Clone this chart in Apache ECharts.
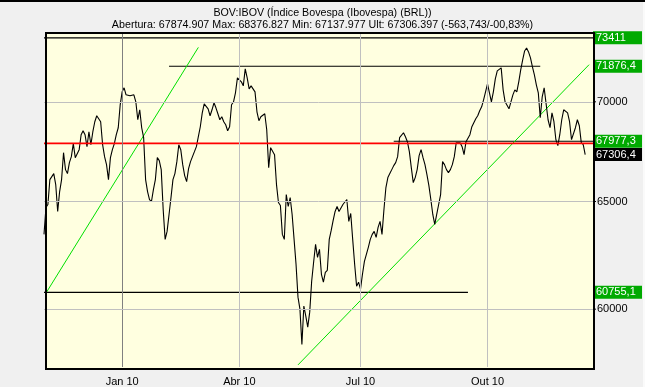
<!DOCTYPE html>
<html><head><meta charset="utf-8">
<script src="https://cdn.jsdelivr.net/npm/echarts@6/dist/echarts.min.js"></script>
<style>html,body{margin:0;padding:0;background:#f0f0f0;}#c{width:645px;height:387px;}</style>
</head><body><div id="c"></div>
<script>
// ---------- texts ----------
const titleText = 'BOV:IBOV (Índice Bovespa (Ibovespa) (BRL))';
const subtitleText = 'Abertura: 67874.907 Max: 68376.827 Min: 67137.977 Ult: 67306.397 (-563,743/-00,83%)';

// ---------- daily closes, one array per month (trading days) ----------
const oct09 = [63430];
const nov09 = [64711,64855,66068,66215,66362,65823,64519,65483,66068,67403,66559,66362,66905,67204,67854,67154,67204,67553,68309];
const dec09 = [68511,68309,67704,68461,67804,68461,68971,69278,69329,68971,67804,67204,66806,66068,67154,67553,67854,68309,68664,69845];
const jan10 = [70521,70730,70364,70417,70312,70208,70364,70000,69073,69586,68664,68157,66068,65483,65096,64999,65580,66068,67154];
const feb10 = [67004,66559,64615,63195,63571,64376,65193,66068,66362,66955,67804,67553,66806,66264,65970,66608,66955,67204];
const mar10 = [67453,67704,68208,68715,69430,69896,69896,69638,69278,69586,69948,69689,69380,69073,69226,68971,68817,68511,68715,69845,70000,70469,71257];
const apr10 = [71204,71046,70835,71733,71257,70678,70835,70940,70521,69482,69022,69226,69329,69380,68562,66658,67654,67754,67304,65823];
const may10 = [64951,64807,63430,63195,65337,64759,65193,64376,63195,62035,60539,60000,58446,60138,59690,59206,59867,61260,62127,62961,62358];
const jun10 = [62728,61577,61215,61668,61760,63195,63618,64090,64519,64759,64519,64519,64855,64903,65096,64043,64424,63195,62035,61033,61215];
const jul10 = [60898,61577,62173,62496,62821,63195,63430,63571,63289,63759,64043,63430,64615,65677,66166,66362,66559,66757,66905,67204,68157,68157];
const aug10 = [68410,68208,67955,67453,66658,65921,66166,66559,67254,67553,67154,66806,66313,65774,65096,64376,63901,64376,64855,65337,66955,66806];
const sep10 = [66559,66411,66559,66806,67204,67905,67905,67905,67704,67304,67955,67955,68309,68715,68664,69124,69278,69534,69741,70104,70521];
const oct10 = [70940,70469,70000,70521,71204,71627,71733,71787,70626,70000,70104,69638,69741,70364,70626,70521,71046,71680,72214,72698];
const nov10 = [72859,72644,72321,71840,71415,70888,70469,69175,70260,70730,70730,69073,68664,69430,68971,68056,67754,68309,69073,69586];
const dec10 = [69689,69430,68971,68056,68056,68664,69073,68766,67905,67804,67306.397];

const monthKeys = ['2009-10','2009-11','2009-12','2010-01','2010-02','2010-03','2010-04','2010-05','2010-06','2010-07','2010-08','2010-09','2010-10','2010-11','2010-12'];
const monthCloses = [oct09,nov09,dec09,jan10,feb10,mar10,apr10,may10,jun10,jul10,aug10,sep10,oct10,nov10,dec10];
const pendingDaysDec10 = 4; // empty trading days still shown on the axis

// ---------- axis ----------
const tickMonths = ['2010-01','2010-04','2010-07','2010-10'];
const tickLabels = ['Jan 10','Abr 10','Jul 10','Out 10'];
const yMin = 57475, yMax = 73729;
const gridLevels = [60000, 65000, 70000];
const gridLevelTexts = ['60000', '65000', '70000'];

// ---------- reference levels ----------
const prevClose = 67870.14;
const boxLevels = [73411, 71876.4, 67977.3, 60755.1];
const boxTexts = ['73411', '71876,4', '67977,3', '60755,1'];
const lastLevel = 67306.397;
const lastText = '67306,4';

// ---------- drawn lines (trading day, price) ----------
const redLine = [['2009-10/1', prevClose], ['2010-12/15', prevClose]];
const blackLines = [
  [['2009-10/1', 73411], ['2010-12/15', 73411]],
  [['2010-02/6', 71876.4], ['2010-11/8', 71876.4]],
  [['2010-07/18', 67977.3], ['2010-12/15', 67977.3]],
  [['2009-10/1', 60755.1], ['2010-09/12', 60755.1]]
];
const greenLines = [
  [['2009-11/1', 60720], ['2010-03/3', 72891]],
  [['2010-05/11', 57565], ['2010-12/13', 71960]]
];

// ---------- build ----------
const categories = [], closes = [];
monthKeys.forEach((m, k) => monthCloses[k].forEach((v, d) => { categories.push(m + '/' + (d + 1)); closes.push(v); }));
for (let d = 0; d < pendingDaysDec10; d++) { categories.push('2010-12/' + (dec10.length + d + 1)); closes.push(null); }

const FONT = 'Liberation Sans, Arial, sans-serif';
const tickMap = {};
tickMonths.forEach((m, k) => tickMap[m + '/1'] = tickLabels[k]);

const vLines = tickMonths.map((m, k) => ({
  xAxis: m + '/1',
  lineStyle: { color: k === 0 ? '#808080' : '#c0c0c0', width: 1, type: 'solid' },
  label: { show: false }
}));
const hLines = gridLevels.map((v, k) => ({
  yAxis: v,
  lineStyle: { color: '#c0c0c0', width: 1, type: 'solid' },
  label: {
    show: true, position: 'end', distance: 0,
    formatter: '{t|}{v|' + gridLevelTexts[k] + '}',
    rich: {
      t: { width: 3, height: 1, backgroundColor: '#000' },
      v: { color: '#000', fontSize: 11, fontFamily: FONT, padding: [0, 0, 0, 1] }
    }
  }
}));
const boxLabelStyle = (txt, bg) => ({
  show: true, position: 'end', distance: 0, formatter: txt,
  color: '#fff', backgroundColor: bg, fontSize: 11, fontFamily: FONT,
  lineHeight: 13, padding: [0, 0, 0, 3], width: 46, align: 'left'
});
const boxMarks = boxLevels.map((v, k) => ({
  yAxis: v, lineStyle: { color: 'rgba(0,0,0,0)', width: 0 }, label: boxLabelStyle(boxTexts[k], '#00aa00')
}));
boxMarks.push({ yAxis: lastLevel, lineStyle: { color: 'rgba(0,0,0,0)', width: 0 }, label: boxLabelStyle(lastText, '#000000') });

const series = [
  { type: 'line', data: [], z: 1, silent: true,
    markLine: { silent: true, symbol: ['none', 'none'], animation: false, data: vLines.concat(hLines) } },
  { type: 'line', data: closes, z: 3, showSymbol: false, symbol: 'none', connectNulls: false,
    lineStyle: { color: '#000', width: 1.1 }, silent: true },
  { type: 'line', data: redLine, z: 4, symbol: 'none', silent: true, lineStyle: { color: '#ff0000', width: 1.6 } }
];
blackLines.forEach(seg => series.push({ type: 'line', data: seg, z: 2, symbol: 'none', silent: true,
  lineStyle: { color: '#000', width: 1.2 } }));
greenLines.forEach(seg => series.push({ type: 'line', data: seg, z: 2, symbol: 'none', silent: true,
  lineStyle: { color: '#00e000', width: 1 } }));
series.push({ type: 'line', data: [], z: 6, silent: true,
  markLine: { silent: true, symbol: ['none', 'none'], animation: false,
    lineStyle: { color: 'rgba(0,0,0,0)', width: 0 }, data: boxMarks } });

const chart = echarts.init(document.getElementById('c'), null, { renderer: 'canvas' });
chart.setOption({
  animation: false,
  backgroundColor: '#f0f0f0',
  title: [
    { text: titleText, left: 'center', top: 7, padding: 0, textStyle: { fontSize: 10.7, fontWeight: 'normal', color: '#000', fontFamily: FONT, lineHeight: 13 } },
    { text: subtitleText, left: 'center', top: 18.5, padding: 0, textStyle: { fontSize: 10.7, fontWeight: 'normal', color: '#000', fontFamily: FONT, lineHeight: 13 } }
  ],
  grid: { left: 44, right: 52, top: 32, bottom: 19, show: false },
  xAxis: {
    type: 'category', data: categories, boundaryGap: false,
    axisLine: { show: false }, axisTick: { show: false }, splitLine: { show: false },
    axisLabel: {
      interval: (idx, val) => tickMap[val] !== undefined,
      formatter: (val) => tickMap[val] || '',
      color: '#000', fontSize: 11, fontFamily: FONT, margin: 9
    }
  },
  yAxis: { type: 'log', logBase: 10, min: yMin, max: yMax, show: false },
  graphic: [
    { type: 'rect', z: -10, silent: true, shape: { x: 45, y: 32, width: 549, height: 337 }, style: { fill: '#ffffe0' } },
    { type: 'rect', z: 100, silent: true, shape: { x: 46, y: 33, width: 548, height: 336 }, style: { fill: null, stroke: '#000', lineWidth: 2 } },
    { type: 'rect', z: 100, silent: true, shape: { x: 0, y: 0, width: 645, height: 2 }, style: { fill: '#000' } },
    { type: 'rect', z: 100, silent: true, shape: { x: 643, y: 2, width: 2, height: 385 }, style: { fill: '#fafafa' } }
  ],
  series: series
});
</script></body></html>
